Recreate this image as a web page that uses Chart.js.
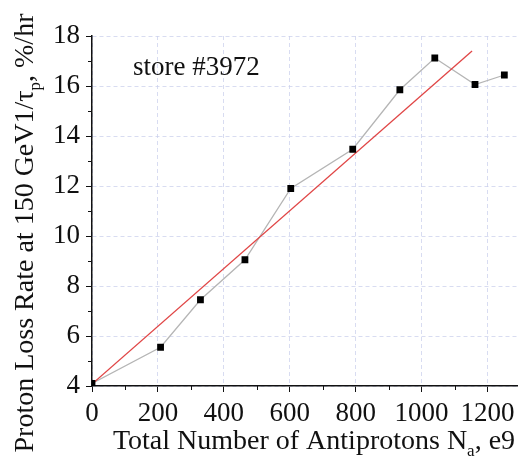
<!DOCTYPE html>
<html>
<head>
<meta charset="utf-8">
<script src="https://cdn.jsdelivr.net/npm/chart.js@4.4.0/dist/chart.umd.min.js"></script>
<style>
  html, body { margin: 0; padding: 0; background: #fff; }
  canvas { display: block; }
</style>
</head>
<body>
<canvas id="lossChart" width="522" height="462"></canvas>
<script>
// measured loss rate vs. antiproton intensity
const antiprotons = [0, 208, 329, 464, 603, 791, 934, 1040, 1162, 1251];
const lossRate = [4.1, 5.55, 7.45, 9.05, 11.9, 13.47, 15.85, 17.12, 16.06, 16.44];

// linear fit end points
const fitX = [0, 1153];
const fitY = [4.08, 17.4];

const xTicks = [0, 200, 400, 600, 800, 1000, 1200];
const yTicks = [4, 6, 8, 10, 12, 14, 16, 18];
const xMinor = [100, 300, 500, 700, 900, 1100];
const yMinor = [5, 7, 9, 11, 13, 15, 17];

const serif = '"Liberation Serif", "Times New Roman", serif';
const tickSize = 27;
const titleSize = 28;
const subSize = 17;

function pts(xs, ys) {
    return xs.map((x, i) => ({ x: x, y: ys[i] }));
}

function partsWidth(ctx, parts) {
    let w = 0;
    parts.forEach(p => {
        ctx.font = (p[1] ? subSize : titleSize) + "px " + serif;
        w += ctx.measureText(p[0]).width;
    });
    return w;
}

// text with subscripts, drawn left to right from (x, y) baseline
function drawParts(ctx, parts, x, y) {
    ctx.textAlign = "left";
    ctx.textBaseline = "alphabetic";
    parts.forEach(p => {
        ctx.font = (p[1] ? subSize : titleSize) + "px " + serif;
        ctx.fillText(p[0], x, p[1] ? y + 7 : y);
        x += ctx.measureText(p[0]).width;
    });
}

const extras = {
    id: "extras",
    afterDraw(chart) {
        const ctx = chart.ctx;
        const xs = chart.scales.x, ys = chart.scales.y;
        const area = chart.chartArea;
        ctx.save();
        ctx.fillStyle = "#111";
        ctx.strokeStyle = "#111";
        ctx.lineWidth = 1;

        // minor ticks
        ctx.beginPath();
        xMinor.forEach(v => {
            const px = Math.round(xs.getPixelForValue(v)) + 0.5;
            ctx.moveTo(px, area.bottom);
            ctx.lineTo(px, area.bottom + 4);
        });
        yMinor.forEach(v => {
            const py = Math.round(ys.getPixelForValue(v)) + 0.5;
            ctx.moveTo(area.left, py);
            ctx.lineTo(area.left - 4, py);
        });
        ctx.stroke();

        // x axis title
        const xParts = [["Total Number of Antiprotons N", false], ["a", true], [", e9", false]];
        const xw = partsWidth(ctx, xParts);
        drawParts(ctx, xParts, 314 - xw / 2, 449);

        // y axis title
        const yParts = [["Proton Loss Rate at 150 GeV1/\u03c4", false], ["p", true], [", %/hr", false]];
        const yw = partsWidth(ctx, yParts);
        ctx.save();
        ctx.translate(33, 233);
        ctx.rotate(-Math.PI / 2);
        drawParts(ctx, yParts, -yw / 2, 0);
        ctx.restore();

        // store label
        ctx.font = tickSize + "px " + serif;
        ctx.textAlign = "left";
        ctx.fillText("store #3972", 133, 75);
        ctx.restore();
    }
};

const grid = {
    color: "rgba(200, 205, 235, 0.7)",
    tickColor: "#111",
    tickLength: 6,
    lineWidth: 1
};

new Chart(document.getElementById("lossChart"), {
    type: "scatter",
    data: {
        datasets: [
            {
                data: pts(antiprotons, lossRate),
                showLine: false,
                pointStyle: "rect",
                pointRadius: 4.8,
                pointBackgroundColor: "#000",
                pointBorderColor: "#000",
                pointBorderWidth: 0,
                order: 1
            },
            {
                data: pts(fitX, fitY),
                showLine: true,
                borderColor: "#e04545",
                borderWidth: 1.3,
                pointRadius: 0,
                order: 2
            },
            {
                data: pts(antiprotons, lossRate),
                showLine: true,
                borderColor: "#b5b5b5",
                borderWidth: 1.3,
                pointRadius: 0,
                order: 3
            }
        ]
    },
    options: {
        responsive: false,
        animation: false,
        layout: { padding: { top: 36, right: 0, left: 0, bottom: 0 } },
        plugins: {
            legend: { display: false },
            tooltip: { enabled: false }
        },
        scales: {
            x: {
                type: "linear",
                min: 0,
                max: 1290,
                afterBuildTicks: s => { s.ticks = xTicks.map(v => ({ value: v })); },
                afterFit: s => { s.height = 76; },
                grid: grid,
                border: { display: true, color: "#111", width: 1.5, dash: [4, 3] },
                ticks: {
                    color: "#111",
                    padding: 6,
                    maxRotation: 0,
                    autoSkip: false,
                    callback: v => String(v),
                    font: { family: serif, size: tickSize }
                }
            },
            y: {
                type: "linear",
                min: 4,
                max: 18,
                afterBuildTicks: s => { s.ticks = yTicks.map(v => ({ value: v })); },
                afterFit: s => { s.width = 92; },
                grid: grid,
                border: { display: true, color: "#111", width: 1.5, dash: [4, 3] },
                ticks: {
                    color: "#111",
                    padding: 6,
                    autoSkip: false,
                    callback: v => String(v),
                    font: { family: serif, size: tickSize }
                }
            }
        }
    },
    plugins: [extras]
});
</script>
</body>
</html>
